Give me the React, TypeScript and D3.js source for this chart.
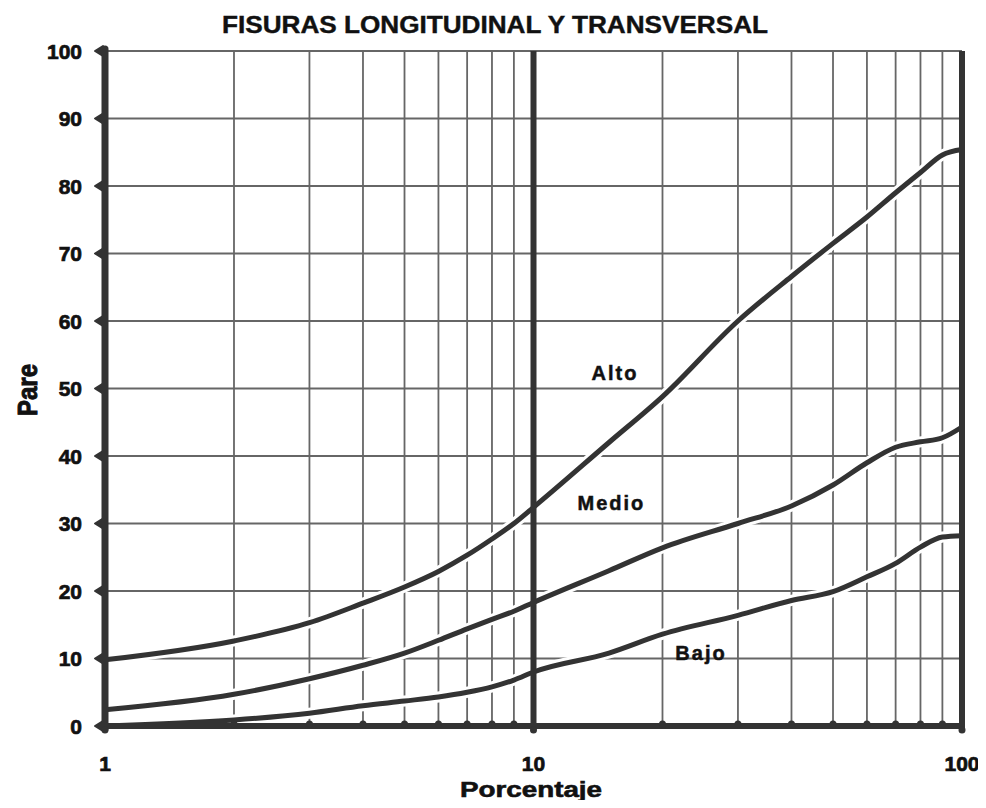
import React, { useEffect, useRef } from 'react';
import * as d3 from 'd3';

// porcentaje (log axis) and value pairs
const porcentaje = [1, 2, 3, 4, 5, 6, 7, 8, 9, 10, 15, 20, 30, 40, 50, 60, 70, 80, 90, 100];
const alto = [9.8, 12.6, 15.3, 18.2, 20.6, 22.9, 25.3, 27.7, 30.0, 32.4, 42.0, 48.8, 60.0, 66.6, 71.5, 75.4, 79.0, 82.0, 84.6, 85.4];
const medio = [2.4, 4.7, 7.0, 9.0, 10.8, 12.7, 14.4, 15.8, 17.0, 18.3, 23.0, 26.4, 30.0, 32.6, 35.7, 39.0, 41.3, 42.1, 42.7, 44.3];
const bajo = [0, 0.9, 1.9, 3.0, 3.7, 4.3, 5.0, 5.8, 6.8, 8.0, 10.8, 13.6, 16.4, 18.6, 19.9, 22.1, 24.1, 26.5, 28.0, 28.2];

const yTicks = [0, 10, 20, 30, 40, 50, 60, 70, 80, 90, 100];
const xMajor = [1, 10, 100];
const xMinor = [2, 3, 4, 5, 6, 7, 8, 9, 20, 30, 40, 50, 60, 70, 80, 90];

const seriesNames = ['Alto', 'Medio', 'Bajo'];
const seriesValues = [alto, medio, bajo];
// label anchor in data space
const labelAt = [[15.5, 51.2], [15.2, 32], [24.6, 9.8]];

export default function App() {
  const ref = useRef<SVGSVGElement>(null);

  useEffect(() => {
    const W = 986, H = 808;
    const svg = d3.select(ref.current)
      .attr('width', W)
      .attr('height', H)
      .style('display', 'block')
      .style('background', '#fff');
    svg.selectAll('*').remove();

    const dark = '#333';
    const ink = '#111';
    const font = '"Liberation Sans", Arial, sans-serif';

    const x = d3.scaleLog().domain([1, 100]).range([105, 962]);
    const y = d3.scaleLinear().domain([0, 100]).range([726, 51]);

    // grid
    const grid = svg.append('g');
    grid.selectAll('line.h')
      .data(yTicks.filter(d => d > 0))
      .join('line')
      .attr('x1', x(1)).attr('x2', x(100))
      .attr('y1', d => y(d)).attr('y2', d => y(d))
      .attr('stroke', '#666').attr('stroke-width', 1.8);
    grid.selectAll('line.v')
      .data(xMinor)
      .join('line')
      .attr('x1', d => x(d)).attr('x2', d => x(d))
      .attr('y1', y(100)).attr('y2', y(0))
      .attr('stroke', '#666').attr('stroke-width', 1.8);

    // curves with white halo
    const line = d3.line<number>()
      .x((_, i) => x(porcentaje[i]))
      .y(d => y(d))
      .curve(d3.curveMonotoneX);
    const curves = svg.append('g');
    seriesValues.forEach(vals => {
      curves.append('path')
        .attr('d', line(vals))
        .attr('fill', 'none')
        .attr('stroke', '#fff')
        .attr('stroke-width', 11);
    });
    seriesValues.forEach(vals => {
      curves.append('path')
        .attr('d', line(vals))
        .attr('fill', 'none')
        .attr('stroke', dark)
        .attr('stroke-width', 5)
        .attr('stroke-linejoin', 'round');
    });

    // thick decade lines / axes
    svg.append('g').selectAll('line')
      .data(xMajor)
      .join('line')
      .attr('x1', d => x(d)).attr('x2', d => x(d))
      .attr('y1', d => d === 1 ? y(100) - 2 : y(100))
      .attr('y2', y(0) + 3)
      .attr('stroke', dark)
      .attr('stroke-width', d => d === 1 ? 7 : 6)
      .attr('stroke-linecap', d => d === 1 ? 'round' : 'butt');
    svg.append('line')
      .attr('x1', x(1)).attr('x2', x(100))
      .attr('y1', y(0)).attr('y2', y(0))
      .attr('stroke', dark).attr('stroke-width', 6);

    // y tick markers and labels
    const yAxis = svg.append('g');
    yAxis.selectAll('path')
      .data(yTicks)
      .join('path')
      .attr('d', d => `M${x(1) - 10},${y(d)} L${x(1) - 2},${y(d) - 5} L${x(1) - 2},${y(d) + 5} Z`)
      .attr('fill', dark)
      .attr('stroke', dark)
      .attr('stroke-linejoin', 'round')
      .attr('stroke-width', 2);
    yAxis.selectAll('text')
      .data(yTicks)
      .join('text')
      .attr('x', 82)
      .attr('y', d => y(d))
      .attr('dy', '0.36em')
      .attr('text-anchor', 'end')
      .attr('font-family', font)
      .attr('font-weight', 'bold')
      .attr('font-size', 21)
      .attr('stroke', ink)
      .attr('stroke-width', 0.7)
      .attr('fill', ink)
      .text(d => d);

    // x tick dots and labels
    svg.append('g').selectAll('circle')
      .data(xMinor)
      .join('circle')
      .attr('cx', d => x(d)).attr('cy', y(0) - 2)
      .attr('r', 3.5)
      .attr('fill', dark);
    svg.append('g').selectAll('circle')
      .data(xMajor)
      .join('circle')
      .attr('cx', d => x(d)).attr('cy', y(0) + 4)
      .attr('r', 3.5)
      .attr('fill', dark);
    svg.append('g').selectAll('text')
      .data(xMajor)
      .join('text')
      .attr('x', d => x(d))
      .attr('y', 771)
      .attr('text-anchor', 'middle')
      .attr('font-family', font)
      .attr('font-weight', 'bold')
      .attr('font-size', 21)
      .attr('stroke', ink)
      .attr('stroke-width', 0.7)
      .attr('fill', ink)
      .text(d => d);

    // series labels
    svg.append('g').selectAll('text')
      .data(seriesNames)
      .join('text')
      .attr('x', (_, i) => x(labelAt[i][0]))
      .attr('y', (_, i) => y(labelAt[i][1]))
      .attr('text-anchor', 'middle')
      .attr('font-family', font)
      .attr('font-weight', 'bold')
      .attr('font-size', 20)
      .attr('letter-spacing', 2)
      .attr('stroke', ink)
      .attr('stroke-width', 0.5)
      .attr('fill', ink)
      .text(d => d);

    // titles
    svg.append('text')
      .attr('x', 495).attr('y', 33)
      .attr('text-anchor', 'middle')
      .attr('font-family', font)
      .attr('font-weight', 'bold')
      .attr('font-size', 23)
      .attr('textLength', 546)
      .attr('lengthAdjust', 'spacingAndGlyphs')
      .attr('stroke', ink)
      .attr('stroke-width', 0.4)
      .attr('fill', ink)
      .text('FISURAS LONGITUDINAL Y TRANSVERSAL');
    svg.append('text')
      .attr('x', 531).attr('y', 797)
      .attr('text-anchor', 'middle')
      .attr('font-family', font)
      .attr('font-weight', 'bold')
      .attr('font-size', 22)
      .attr('textLength', 142)
      .attr('lengthAdjust', 'spacingAndGlyphs')
      .attr('stroke', ink)
      .attr('stroke-width', 0.6)
      .attr('fill', ink)
      .text('Porcentaje');
    svg.append('text')
      .attr('transform', 'translate(37,390) rotate(-90)')
      .attr('text-anchor', 'middle')
      .attr('font-family', font)
      .attr('font-weight', 'bold')
      .attr('font-size', 28)
      .attr('textLength', 52)
      .attr('lengthAdjust', 'spacingAndGlyphs')
      .attr('stroke', ink)
      .attr('stroke-width', 1)
      .attr('fill', ink)
      .text('Pare');
  });

  return (
    <div style={{ margin: -8 }}>
      <svg ref={ref}></svg>
    </div>
  );
}
